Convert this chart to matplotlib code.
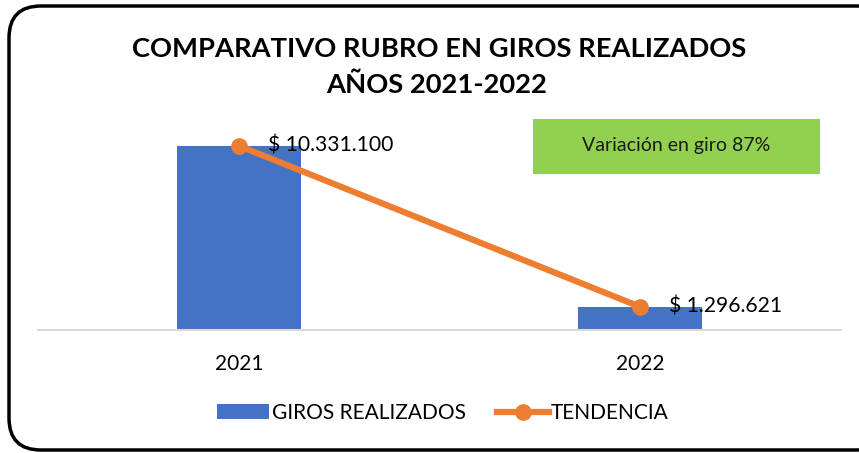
import matplotlib
matplotlib.use("Agg")
import matplotlib.pyplot as plt
import matplotlib.patches as patches
from matplotlib.lines import Line2D

# datos
anios = ["2021", "2022"]
giros = [10331100, 1296621]
etiquetas = ["$ 10.331.100", "$ 1.296.621"]
titulo1 = "COMPARATIVO RUBRO EN GIROS REALIZADOS"
titulo2 = "AÑOS 2021-2022"
nota = "Variación en giro 87%"

azul = "#4472C4"
naranja = "#ED7D31"
verde = "#92D050"

plt.rcParams['font.family'] = ['Lato', 'DejaVu Sans']

W, H = 859, 453
fig = plt.figure(figsize=(W / 100, H / 100), dpi=100)

# capa de fondo en pixeles para el marco redondeado
bg = fig.add_axes([0, 0, 1, 1])
bg.set_xlim(0, W)
bg.set_ylim(H, 0)
bg.axis("off")
marco = patches.FancyBboxPatch((9, 6), 880, 444,
                               boxstyle="round,pad=0,rounding_size=32",
                               linewidth=2.5, edgecolor="black", facecolor="white")
bg.add_patch(marco)

# caja verde
caja = patches.Rectangle((533, 119), 287, 55, facecolor=verde, edgecolor="none")
bg.add_patch(caja)
bg.text(676, 145, nota, fontsize=14, ha="center", va="center", color="#1a1a1a")

# grafico principal
ax = fig.add_axes([38 / W, (H - 330) / H, 803 / W, 214 / H])
ax.patch.set_alpha(0)
x = list(range(len(anios)))
ax.bar(x, giros, width=0.31, color=azul, zorder=2)
ax.plot(x, giros, color=naranja, linewidth=4.5, marker="o", markersize=11, zorder=3)
for xi, v, t in zip(x, giros, etiquetas):
    ax.annotate(t, (xi, v), xytext=(21, 0), textcoords="offset points",
                ha="left", va="center", fontsize=15.2, color="black", zorder=4)

ax.set_xlim(-0.5, 1.5)
ax.set_ylim(0, 12000000)
ax.set_xticks(x)
ax.set_xticklabels(anios, fontsize=15)
ax.tick_params(axis="x", length=0, pad=17)
ax.set_yticks([])
for s in ["top", "right", "left"]:
    ax.spines[s].set_visible(False)
ax.spines["bottom"].set_color("#D9D9D9")
ax.spines["bottom"].set_linewidth(1.5)

# titulos
fig.text(439 / W, 1 - 49 / H, titulo1, fontsize=19.7, fontweight="bold",
         ha="center", va="center")
fig.text(437 / W, 1 - 85 / H, titulo2, fontsize=19.7, fontweight="bold",
         ha="center", va="center")

# leyenda
h1 = patches.Patch(facecolor=azul, edgecolor="none")
h2 = Line2D([], [], color=naranja, linewidth=4.5, marker="o", markersize=11)
fig.legend([h1, h2], ["GIROS REALIZADOS", "TENDENCIA"], loc="center",
           bbox_to_anchor=(443 / W, 1 - 413 / H), ncol=2, frameon=False,
           fontsize=15, handlelength=2.5, handletextpad=0.1, columnspacing=1.5)

fig.savefig("out.png", dpi=100)
